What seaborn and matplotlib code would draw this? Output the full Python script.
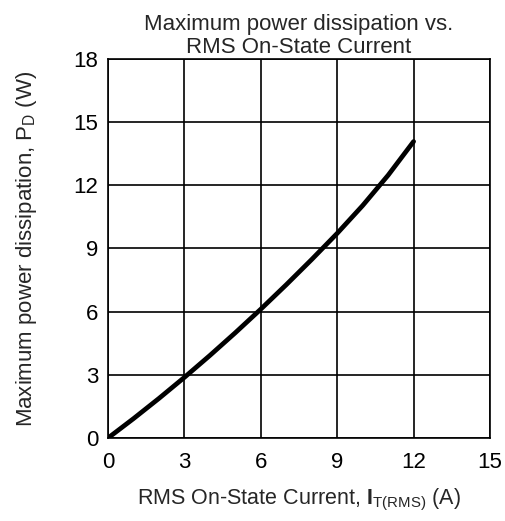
import matplotlib
matplotlib.use('Agg')
import matplotlib.pyplot as plt
import seaborn as sns
import pandas as pd

# Curve
current = [0, 1, 2, 3, 4, 5, 6, 7, 8, 9, 10, 11, 12]
power = [0, 0.92, 1.88, 2.88, 3.92, 5.0, 6.12, 7.28, 8.48, 9.72, 11.04, 12.48, 14.08]
x_ticks = [0, 3, 6, 9, 12, 15]
y_ticks = [0, 3, 6, 9, 12, 15, 18]

df = pd.DataFrame({'I': current, 'P': power})

sns.set_style('white')
plt.rcParams['font.family'] = ['Liberation Sans', 'DejaVu Sans']
plt.rcParams['mathtext.fontset'] = 'custom'
plt.rcParams['mathtext.rm'] = 'Liberation Sans'
plt.rcParams['mathtext.bf'] = 'Liberation Sans:bold'

fig = plt.figure(figsize=(5.05, 5.21), dpi=100)
ax = fig.add_axes([0.2139, 0.1593, 0.7564, 0.7275])

sns.lineplot(data=df, x='I', y='P', color='black', linewidth=3.4, ax=ax)

ax.set_xlim(0, 15)
ax.set_ylim(0, 18)
ax.set_xticks(x_ticks)
ax.set_yticks(y_ticks)
ax.grid(True, color='black', linewidth=1.2)
for s in ax.spines.values():
    s.set_color('black')
    s.set_linewidth(1.2)
ax.tick_params(axis='both', length=2, width=1, color='black', labelsize=16, labelcolor='black')
ax.tick_params(axis='x', pad=8)
ax.tick_params(axis='y', pad=5)

ax.set_title('Maximum power dissipation vs.\nRMS On-State Current', fontsize=16, pad=4, linespacing=1.15)
ax.set_xlabel(r'RMS On-State Current, $\mathbf{I}_{\mathrm{T(RMS)}}$ (A)', fontsize=15.5, labelpad=10)
ax.set_ylabel(r'Maximum power dissipation, P$_{\mathrm{D}}$ (W)', fontsize=16, labelpad=25)

fig.savefig('out.png', dpi=100)
